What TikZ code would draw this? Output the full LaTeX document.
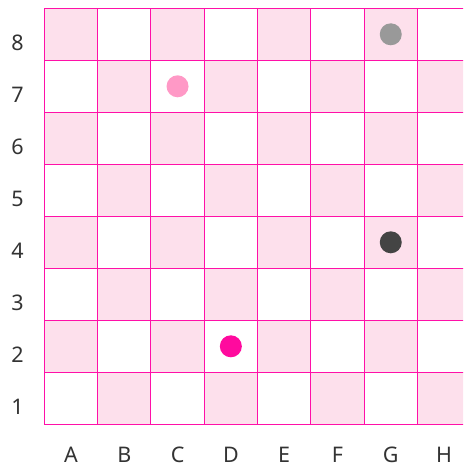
\documentclass[tikz,border=0pt]{standalone}
\usepackage{fontspec}
\setmainfont{Noto Sans}
\definecolor{gridline}{HTML}{FF10A8}
\definecolor{cellpink}{HTML}{FDE0EC}
\definecolor{txt}{HTML}{333333}
\definecolor{dotgrey}{HTML}{999999}
\definecolor{dotlight}{HTML}{FF99C6}
\definecolor{dotdark}{HTML}{444444}
\definecolor{dothot}{HTML}{FF0A9E}
\tikzset{
  lbl/.style={font=\fontsize{21.5}{24}\selectfont, text=txt, inner sep=0pt, anchor=base},
  dotpiece/.style={circle, minimum size=22pt, inner sep=0pt},
}
\begin{document}
\begin{tikzpicture}[x=1pt,y=-1pt]
\useasboundingbox (0,0) rectangle (463,468);
\def\xl{44.3}\def\yt{8.3}\def\cw{53.3}\def\ch{52}
\begin{scope}
\clip (0,0) rectangle (463,468);
\foreach \c in {1,...,8}{
  \foreach \r in {1,...,8}{
    \pgfmathtruncatemacro{\parity}{mod(\c+\r,2)}
    \ifnum\parity=1
      \fill[cellpink] ({\xl+(\c-1)*\cw},{\yt+(8-\r)*\ch}) rectangle ++(\cw,\ch);
    \fi
  }
}
\foreach \i in {0,...,8}{
  \draw[gridline, line width=1pt] ({\xl+\i*\cw},\yt) -- ({\xl+\i*\cw},{\yt+8*\ch});
  \draw[gridline, line width=1pt] (\xl,{\yt+\i*\ch}) -- ({\xl+8*\cw},{\yt+\i*\ch});
}
\end{scope}
\foreach \r in {1,...,8}{
  \node[lbl] (row\r) at (17.5,{\yt+(8.5-\r)*\ch+16}) {\r};
}
\foreach \l [count=\c] in {A,B,C,D,E,F,G,H}{
  \node[lbl] (col\l) at ({\xl+(\c-0.5)*\cw},462) {\l};
}
\node[dotpiece, fill=dotgrey] (g8) at ({\xl+6.5*\cw},{\yt+0.5*\ch}) {};
\node[dotpiece, fill=dotlight] (c7) at ({\xl+2.5*\cw},{\yt+1.5*\ch}) {};
\node[dotpiece, fill=dotdark] (g4) at ({\xl+6.5*\cw},{\yt+4.5*\ch}) {};
\node[dotpiece, fill=dothot] (d2) at ({\xl+3.5*\cw},{\yt+6.5*\ch}) {};
\end{tikzpicture}
\end{document}
